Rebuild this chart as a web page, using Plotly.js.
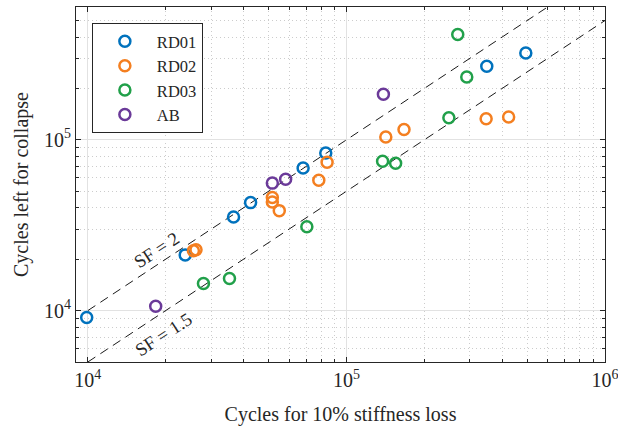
<!DOCTYPE html>
<html>
<head>
<meta charset="utf-8">
<script src="https://cdn.plot.ly/plotly-3.0.1.min.js"></script>
<style>html,body{margin:0;padding:0;background:#fff;}#chart{width:618px;height:430px;}</style>
</head>
<body>
<div id="chart"></div>
<script>
// Series data (x: cycles for 10% stiffness loss, y: cycles left for collapse)
const seriesNames = ['RD01', 'RD02', 'RD03', 'AB'];
const rd01X = [9900, 23800, 36600, 42600, 68000, 83200, 349000, 494000];
const rd01Y = [9100, 21200, 35300, 42900, 68400, 83800, 270000, 323000];
const rd02X = [25600, 26200, 51700, 51700, 55000, 78200, 84200, 142000, 167000, 347000, 424000];
const rd02Y = [22400, 22700, 46000, 43300, 38500, 58000, 74000, 104000, 115000, 133000, 136000];
const rd03X = [28000, 35300, 70300, 138000, 155000, 249000, 269500, 292000];
const rd03Y = [14400, 15400, 31000, 75000, 73000, 134800, 413500, 233500];
const abX = [18300, 51700, 58200, 139000];
const abY = [10600, 55800, 58800, 185000];
// Reference lines (safety factors)
const refX = [1e4, 1e6];
const sf2Y = [1e4, 1e6];
const sf15Y = [5e3, 5e5];
const sfLabels = ['SF = 2', 'SF = 1.5'];
// Tick labels
const xTickVals = [1e4, 1e5, 1e6];
const xTickText = ['10<sup>4</sup>', '10<sup>5</sup>', '10<sup>6</sup>'];
const yTickVals = [1e4, 1e5];
const yTickText = ['10<sup>4</sup>', '10<sup>5</sup>'];

const colors = ['#0072BD', '#F47F20', '#21A04A', '#6B3A99'];
const xs = [rd01X, rd02X, rd03X, abX];
const ys = [rd01Y, rd02Y, rd03Y, abY];

function minorVals(lo, hi) {
  const v = [];
  for (let d = lo; d < hi; d *= 10) for (let k = 2; k <= 9; k++) v.push(k * d);
  return v;
}

const traces = [
  {x: refX, y: sf2Y, mode: 'lines', showlegend: false, hoverinfo: 'skip',
   line: {color: '#1a1a1a', width: 1, dash: '9px,6px'}},
  {x: refX, y: sf15Y, mode: 'lines', showlegend: false, hoverinfo: 'skip',
   line: {color: '#1a1a1a', width: 1, dash: '9px,6px'}}
];
seriesNames.forEach((n, i) => {
  traces.push({
    x: xs[i], y: ys[i], name: n, type: 'scatter', mode: 'markers',
    marker: {symbol: 'circle-open', size: 11, color: colors[i], line: {color: colors[i], width: 2.5}}
  });
});

const fontFam = '"Liberation Serif", "Times New Roman", serif';
const axisCommon = {
  type: 'log', showline: true, linecolor: '#262626', linewidth: 1, mirror: 'ticks',
  ticks: 'inside', ticklen: 5, tickcolor: '#262626', tickwidth: 1,
  showgrid: true, gridcolor: '#e2e2e2', gridwidth: 1, zeroline: false,
  ticklabeloverflow: 'allow',
  tickfont: {family: fontFam, size: 20, color: '#262626'},
  minor: {ticks: 'inside', ticklen: 3, tickcolor: '#262626', showgrid: true,
          gridcolor: '#cccccc', griddash: '1px,3px', gridwidth: 1}
};

const layout = {
  width: 618, height: 430,
  margin: {l: 76, r: 13, t: 7, b: 68},
  paper_bgcolor: '#fff', plot_bgcolor: '#fff',
  font: {family: fontFam, color: '#262626'},
  showlegend: true,
  legend: {x: 0.03, y: 0.955, xanchor: 'left', yanchor: 'top',
           bgcolor: '#fff', bordercolor: '#262626', borderwidth: 1,
           font: {family: fontFam, size: 16.5, color: '#262626'},
           tracegroupgap: 0, itemwidth: 54},
  xaxis: Object.assign({}, axisCommon, {
    range: [Math.log10(9000), 6], tickvals: xTickVals, ticktext: xTickText,
    minor: Object.assign({}, axisCommon.minor, {tickvals: minorVals(1e3, 1e6)}),
    title: {text: 'Cycles for 10% stiffness loss', font: {family: fontFam, size: 20, color: '#262626'}, standoff: 16}
  }),
  yaxis: Object.assign({}, axisCommon, {
    range: [Math.log10(5000), Math.log10(6e5)], tickvals: yTickVals, ticktext: yTickText,
    minor: Object.assign({}, axisCommon.minor, {tickvals: minorVals(1e3, 1e6)}),
    title: {text: 'Cycles left for collapse', font: {family: fontFam, size: 20, color: '#262626'}, standoff: 10}
  }),
  annotations: [
    {text: sfLabels[0], x: 4.268, y: 4.354, xref: 'x', yref: 'y', showarrow: false,
     textangle: -33, font: {family: fontFam, size: 18.5, color: '#262626'}},
    {text: sfLabels[1], x: 4.291, y: 3.859, xref: 'x', yref: 'y', showarrow: false,
     textangle: -33, font: {family: fontFam, size: 18.5, color: '#262626'}}
  ]
};

Plotly.newPlot('chart', traces, layout, {displayModeBar: false, staticPlot: true});
</script>
</body>
</html>
